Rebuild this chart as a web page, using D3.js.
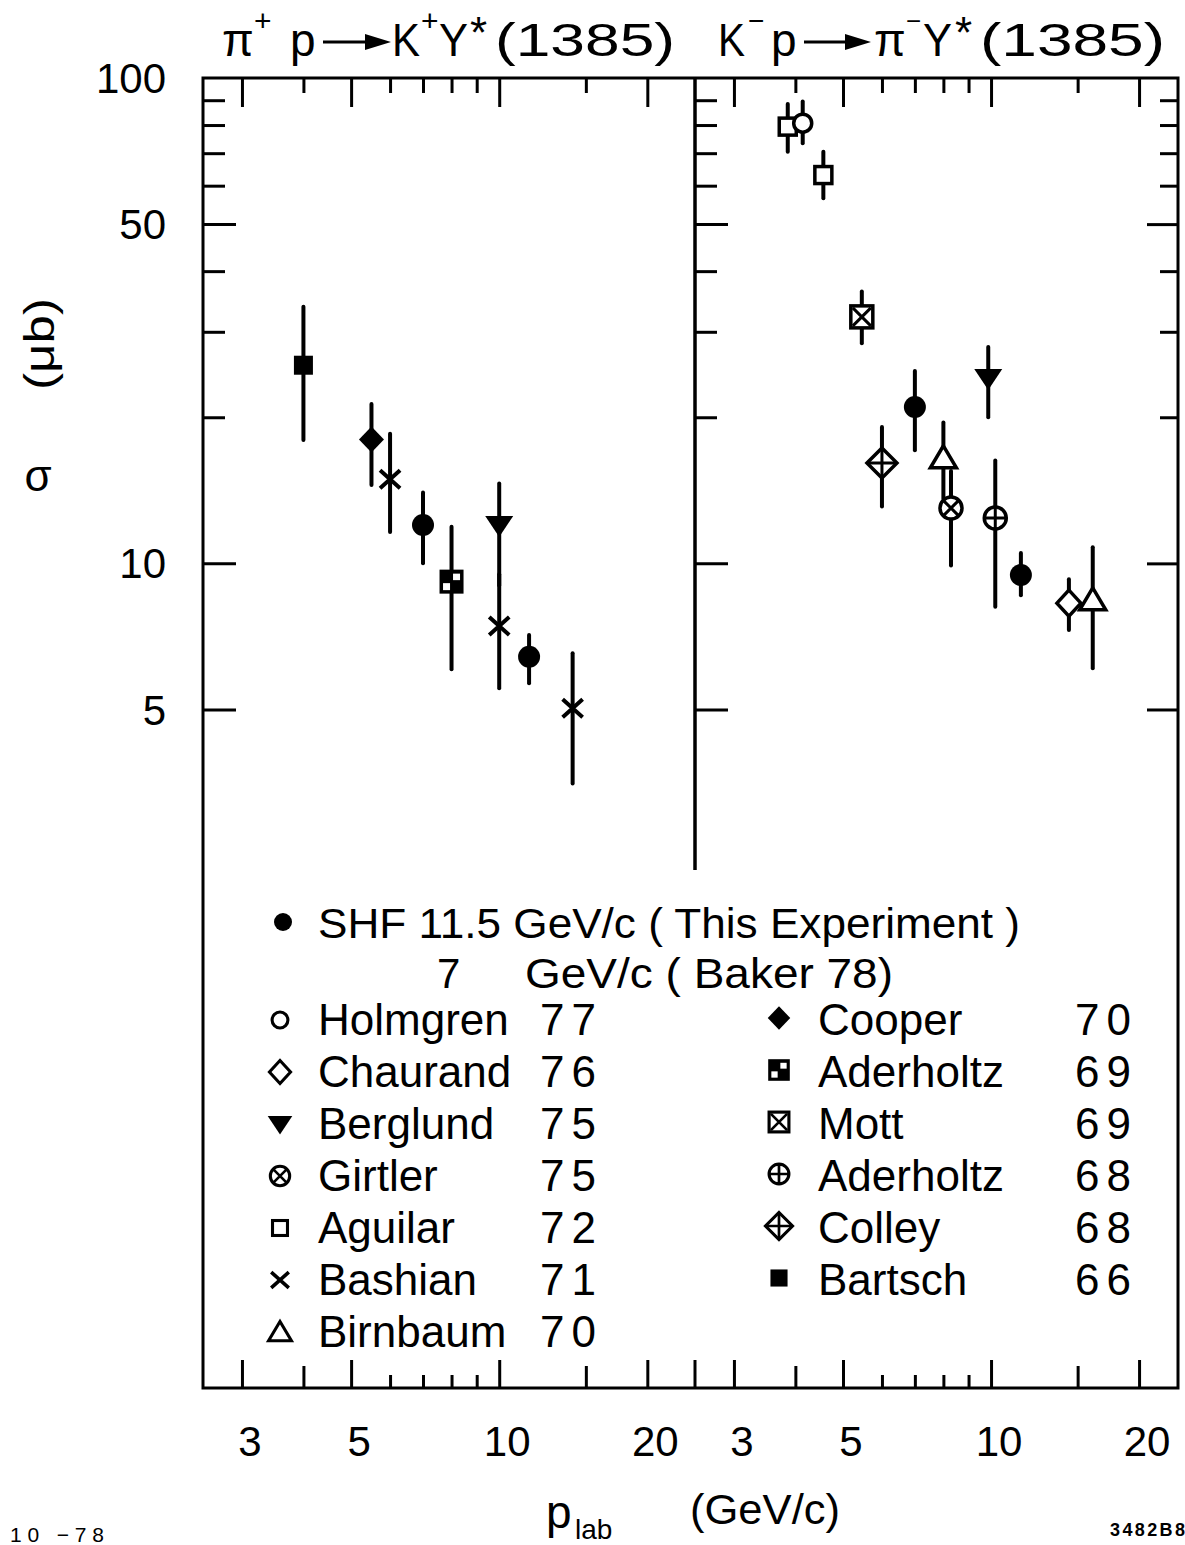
<!DOCTYPE html>
<html>
<head>
<meta charset="utf-8">
<script src="https://cdn.jsdelivr.net/npm/d3@7"></script>
<style>
  body { margin: 0; background: #fff; }
  text { font-family: "Liberation Sans", Arial, sans-serif; fill: #000; }
</style>
</head>
<body>
<svg id="chart" width="1185" height="1545"></svg>
<script>
// ---- π+ p → K+ Y*(1385): beam momentum (GeV/c), σ and its error limits (μb)
const pipExp   = ["bartsch", "cooper", "bashian", "shf", "aderholtz69", "berglund", "bashian", "shf", "bashian"];
const pipP     = [4.0, 5.5, 6.0, 7, 8.0, 10.0, 10.0, 11.5, 14.1];
const pipSigma = [25.6, 18.0, 14.9, 12.0, 9.17, 12.0, 7.43, 6.42, 5.03];
const pipLow   = [17.96, 14.5, 11.6, 10.0, 6.05, 9.0, 5.53, 5.66, 3.52];
const pipHigh  = [33.8, 21.3, 18.5, 14.0, 11.9, 14.6, 9.5, 7.12, 6.53];

// ---- K- p → π- Y*(1385)
const kmExp   = ["aguilar", "holmgren", "aguilar", "mott", "colley", "shf", "berglund", "birnbaum", "girtler", "aderholtz68", "shf", "chaurand", "birnbaum"];
const kmP     = [3.86, 4.14, 4.56, 5.46, 6.0, 7, 9.87, 8.0, 8.29, 10.2, 11.5, 14.4, 16.1];
const kmSigma = [79.4, 80.7, 63.1, 32.2, 16.1, 21.0, 24.1, 16.5, 13.0, 12.4, 9.46, 8.28, 8.41];
const kmLow   = [70.5, 73.4, 56.5, 28.4, 13.1, 17.1, 20.0, 13.6, 9.9, 8.14, 8.6, 7.29, 6.08];
const kmHigh  = [88.4, 89.4, 70.5, 36.3, 19.1, 24.9, 27.9, 19.5, 15.5, 16.3, 10.5, 9.27, 10.8];

// ---- axis ticks and labels
const yMajorTicks = [5, 10, 50];
const yMinorTicks = [20, 30, 40, 60, 70, 80, 90];
const yTickLabels = [100, 50, 10, 5];
const xMajorTicks = [3, 5, 10, 20];
const xMidTicks   = [4, 15];
const xMinorTicks = [6, 7, 8, 9];
const xTickLabels = [3, 5, 10, 20];

// ---- legend
const legendLeftExp   = ["holmgren", "chaurand", "berglund", "girtler", "aguilar", "bashian", "birnbaum"];
const legendLeftName  = ["Holmgren", "Chaurand", "Berglund", "Girtler", "Aguilar", "Bashian", "Birnbaum"];
const legendLeftYear  = ["77", "76", "75", "75", "72", "71", "70"];
const legendRightExp  = ["cooper", "aderholtz69", "mott", "aderholtz68", "colley", "bartsch"];
const legendRightName = ["Cooper", "Aderholtz", "Mott", "Aderholtz", "Colley", "Bartsch"];
const legendRightYear = ["70", "69", "69", "68", "68", "66"];

// ---------------------------------------------------------------------------
const svg = d3.select("#chart");
svg.append("rect").attr("width", 1185).attr("height", 1545).attr("fill", "#fff");

const frameLeft = 203, divider = 695, frameRight = 1178, frameBottom = 1388;
const y = d3.scaleLog().domain([0.2, 100]).range([frameBottom, 78]);
const frameTop = y(100);
const xL = d3.scaleLog().domain([2.5, 25]).range([frameLeft, divider]);
const xR = d3.scaleLog().domain([2.5, 24]).range([divider, frameRight]);

// frame and panel divider
svg.append("rect")
  .attr("x", frameLeft).attr("y", frameTop)
  .attr("width", frameRight - frameLeft).attr("height", frameBottom - frameTop)
  .attr("fill", "none").attr("stroke", "#000").attr("stroke-width", 3);
svg.append("line")
  .attr("x1", divider).attr("x2", divider).attr("y1", frameTop).attr("y2", 870)
  .attr("stroke", "#000").attr("stroke-width", 3.5);
svg.append("line")
  .attr("x1", divider).attr("x2", divider).attr("y1", frameBottom).attr("y2", frameBottom - 28)
  .attr("stroke", "#000").attr("stroke-width", 3);

function tickGroup(axis, transform) {
  const g = svg.append("g").attr("transform", transform).call(axis);
  g.select(".domain").remove();
  g.selectAll(".tick line").attr("stroke", "#000").attr("stroke-width", 3);
  g.selectAll(".tick text").remove();
  return g;
}

// x ticks on top (pointing down) and bottom (pointing up), both panels
[xL, xR].forEach(x => {
  tickGroup(d3.axisTop(x).tickValues(xMajorTicks).tickSize(-29).tickFormat(""), `translate(0,${frameTop})`);
  tickGroup(d3.axisTop(x).tickValues(xMidTicks).tickSize(-15).tickFormat(""), `translate(0,${frameTop})`);
  tickGroup(d3.axisTop(x).tickValues(xMinorTicks).tickSize(-15).tickFormat(""), `translate(0,${frameTop})`);
  tickGroup(d3.axisBottom(x).tickValues(xMajorTicks).tickSize(-28).tickFormat(""), `translate(0,${frameBottom})`);
  tickGroup(d3.axisBottom(x).tickValues(xMidTicks).tickSize(-22).tickFormat(""), `translate(0,${frameBottom})`);
  tickGroup(d3.axisBottom(x).tickValues(xMinorTicks).tickSize(-13).tickFormat(""), `translate(0,${frameBottom})`);
});

// y ticks: left frame and divider point right, right frame points left
[frameLeft, divider].forEach(px => {
  tickGroup(d3.axisLeft(y).tickValues(yMajorTicks).tickSize(-33).tickFormat(""), `translate(${px},0)`);
  tickGroup(d3.axisLeft(y).tickValues(yMinorTicks).tickSize(-22).tickFormat(""), `translate(${px},0)`);
});
tickGroup(d3.axisRight(y).tickValues(yMajorTicks).tickSize(-31).tickFormat(""), `translate(${frameRight},0)`);
tickGroup(d3.axisRight(y).tickValues(yMinorTicks).tickSize(-18).tickFormat(""), `translate(${frameRight},0)`);

// tick labels
svg.append("g").selectAll("text").data(yTickLabels).join("text")
  .attr("x", 166).attr("y", d => y(d)).attr("dy", "0.36em")
  .attr("text-anchor", "end").attr("font-size", 42).text(d => d);
[xL, xR].forEach(x => {
  svg.append("g").selectAll("text").data(xTickLabels).join("text")
    .attr("x", d => x(d) + 8).attr("y", 1456)
    .attr("text-anchor", "middle").attr("font-size", 42).text(d => d);
});

// axis titles
svg.append("text").attr("x", 38).attr("y", 478).attr("dy", "0.3em")
  .attr("text-anchor", "middle").attr("font-size", 44).text("σ");
svg.append("text").attr("transform", "translate(54,344) rotate(-90)")
  .attr("text-anchor", "middle").attr("font-size", 42)
  .attr("textLength", 92).attr("lengthAdjust", "spacingAndGlyphs").text("(μb)");
svg.append("text").attr("x", 546).attr("y", 1528).attr("font-size", 46).text("p");
svg.append("text").attr("x", 575).attr("y", 1539).attr("font-size", 28).text("lab");
svg.append("text").attr("x", 690).attr("y", 1524).attr("font-size", 42)
  .attr("textLength", 150).attr("lengthAdjust", "spacingAndGlyphs").text("(GeV/c)");
svg.append("text").attr("x", 10).attr("y", 1542).attr("font-size", 21)
  .attr("textLength", 94).text("10 −78");
svg.append("text").attr("x", 1110).attr("y", 1536).attr("font-size", 18)
  .attr("font-weight", "bold").attr("textLength", 75).text("3482B8");

// panel titles
function txt(s, x, yy, size) {
  return svg.append("text").attr("x", x).attr("y", yy).attr("font-size", size).text(s);
}
function arrow(x1, x2, yy) {
  svg.append("line").attr("x1", x1).attr("x2", x2 - 20).attr("y1", yy).attr("y2", yy)
    .attr("stroke", "#000").attr("stroke-width", 3);
  svg.append("path").attr("d", `M${x2 - 26},${yy - 8} L${x2},${yy} L${x2 - 26},${yy + 8} Z`).attr("fill", "#000");
}
txt("π", 222, 56, 46);
txt("+", 254, 31, 30);
txt("p", 290, 56, 46);
arrow(323, 391, 42);
txt("K", 392, 56, 46).attr("textLength", 28).attr("lengthAdjust", "spacingAndGlyphs");
txt("+", 421, 31, 30);
txt("Y", 439, 56, 46).attr("textLength", 29).attr("lengthAdjust", "spacingAndGlyphs");
txt("*", 470, 48, 44);
txt("(1385)", 495, 56, 46).attr("textLength", 180).attr("lengthAdjust", "spacingAndGlyphs");
txt("K", 718, 56, 46).attr("textLength", 27).attr("lengthAdjust", "spacingAndGlyphs");
txt("−", 748, 30, 28);
txt("p", 771, 56, 46);
arrow(804, 871, 42);
txt("π", 874, 56, 46);
txt("−", 906, 30, 26);
txt("Y", 923, 56, 46).attr("textLength", 29).attr("lengthAdjust", "spacingAndGlyphs");
txt("*", 955, 48, 44);
txt("(1385)", 980, 56, 46).attr("textLength", 185).attr("lengthAdjust", "spacingAndGlyphs");

// ---- markers
function marker(g, type, cx, cy, k) {
  const sw = 3.5 * Math.max(k, 0.85);
  const lw = w => w / k * Math.max(k, 0.85);
  const m = g.append("g").attr("transform", `translate(${cx},${cy}) scale(${k})`);
  const stroke = el => el.attr("fill", "#fff").attr("stroke", "#000").attr("stroke-width", sw / k);
  switch (type) {
    case "shf":
      m.append("circle").attr("r", 11).attr("fill", "#000"); break;
    case "holmgren":
      stroke(m.append("circle").attr("r", 9)); break;
    case "chaurand":
      stroke(m.append("path").attr("d", "M0,-13 L12,0 L0,13 L-12,0 Z")); break;
    case "berglund":
      m.append("path").attr("d", "M-14,-9 L14,-9 L0,12 Z").attr("fill", "#000"); break;
    case "girtler":
      stroke(m.append("circle").attr("r", 11));
      m.append("path").attr("d", "M-7.5,-7.5 L7.5,7.5 M-7.5,7.5 L7.5,-7.5")
        .attr("stroke", "#000").attr("stroke-width", lw(3)); break;
    case "aguilar":
      stroke(m.append("rect").attr("x", -8.5).attr("y", -8.5).attr("width", 17).attr("height", 17)); break;
    case "bashian":
      m.append("path").attr("d", "M-10,-9 L10,9 M-10,9 L10,-9")
        .attr("stroke", "#000").attr("stroke-width", lw(4)); break;
    case "birnbaum":
      stroke(m.append("path").attr("d", "M0,-12 L13,10 L-13,10 Z")); break;
    case "cooper":
      m.append("path").attr("d", "M0,-13 L12.5,0 L0,13 L-12.5,0 Z").attr("fill", "#000"); break;
    case "aderholtz69":
      m.append("rect").attr("x", -12).attr("y", -12).attr("width", 24).attr("height", 24).attr("fill", "#000");
      m.append("rect").attr("x", 1.5).attr("y", -8).attr("width", 7).attr("height", 6.5).attr("fill", "#fff");
      m.append("rect").attr("x", -8.5).attr("y", 1.5).attr("width", 7).attr("height", 7).attr("fill", "#fff"); break;
    case "mott":
      stroke(m.append("rect").attr("x", -11).attr("y", -11).attr("width", 22).attr("height", 22));
      m.append("path").attr("d", "M-9,-9 L9,9 M-9,9 L9,-9")
        .attr("stroke", "#000").attr("stroke-width", lw(3)); break;
    case "aderholtz68":
      stroke(m.append("circle").attr("r", 11));
      m.append("path").attr("d", "M-11,0 L11,0 M0,-11 L0,11")
        .attr("stroke", "#000").attr("stroke-width", lw(3)); break;
    case "colley":
      stroke(m.append("path").attr("d", "M0,-15 L15,0 L0,15 L-15,0 Z"));
      m.append("path").attr("d", "M-15,0 L15,0 M0,-15 L0,15")
        .attr("stroke", "#000").attr("stroke-width", lw(3)); break;
    case "bartsch":
      m.append("rect").attr("x", -9.5).attr("y", -9.5).attr("width", 19).attr("height", 19).attr("fill", "#000"); break;
  }
}

// ---- data points with error bars
function drawPanel(x, exp, p, sigma, low, high) {
  const rows = exp.map((e, i) => ({ e, p: p[i], s: sigma[i], lo: low[i], hi: high[i] }));
  const g = svg.append("g");
  g.selectAll("line").data(rows).join("line")
    .attr("x1", d => x(d.p)).attr("x2", d => x(d.p))
    .attr("y1", d => y(d.hi)).attr("y2", d => y(d.lo))
    .attr("stroke", "#000").attr("stroke-width", 4).attr("stroke-linecap", "round");
  rows.forEach(d => marker(g, d.e, x(d.p), y(d.s), 1));
}
drawPanel(xL, pipExp, pipP, pipSigma, pipLow, pipHigh);
drawPanel(xR, kmExp, kmP, kmSigma, kmLow, kmHigh);

// ---- legend
const lg = svg.append("g");
lg.append("circle").attr("cx", 283).attr("cy", 922).attr("r", 9).attr("fill", "#000");
lg.append("text").attr("x", 318).attr("y", 938).attr("font-size", 42)
  .attr("textLength", 702).attr("lengthAdjust", "spacingAndGlyphs")
  .text("SHF 11.5 GeV/c ( This Experiment )");
lg.append("text").attr("x", 437).attr("y", 988).attr("font-size", 42).text("7");
lg.append("text").attr("x", 525).attr("y", 988).attr("font-size", 42)
  .attr("textLength", 368).attr("lengthAdjust", "spacingAndGlyphs").text("GeV/c ( Baker 78)");

const rowY = i => 1020 + i * 52;
legendLeftExp.forEach((e, i) => {
  marker(lg, e, 280, rowY(i), 0.88);
  lg.append("text").attr("x", 318).attr("y", rowY(i) + 15).attr("font-size", 44).text(legendLeftName[i]);
  lg.append("text").attr("x", 540).attr("y", rowY(i) + 15).attr("font-size", 44)
    .attr("letter-spacing", 7).text(legendLeftYear[i]);
});
legendRightExp.forEach((e, i) => {
  marker(lg, e, 779, rowY(i) - 2, 0.9);
  lg.append("text").attr("x", 818).attr("y", rowY(i) + 15).attr("font-size", 44).text(legendRightName[i]);
  lg.append("text").attr("x", 1075).attr("y", rowY(i) + 15).attr("font-size", 44)
    .attr("letter-spacing", 7).text(legendRightYear[i]);
});
</script>
</body>
</html>
